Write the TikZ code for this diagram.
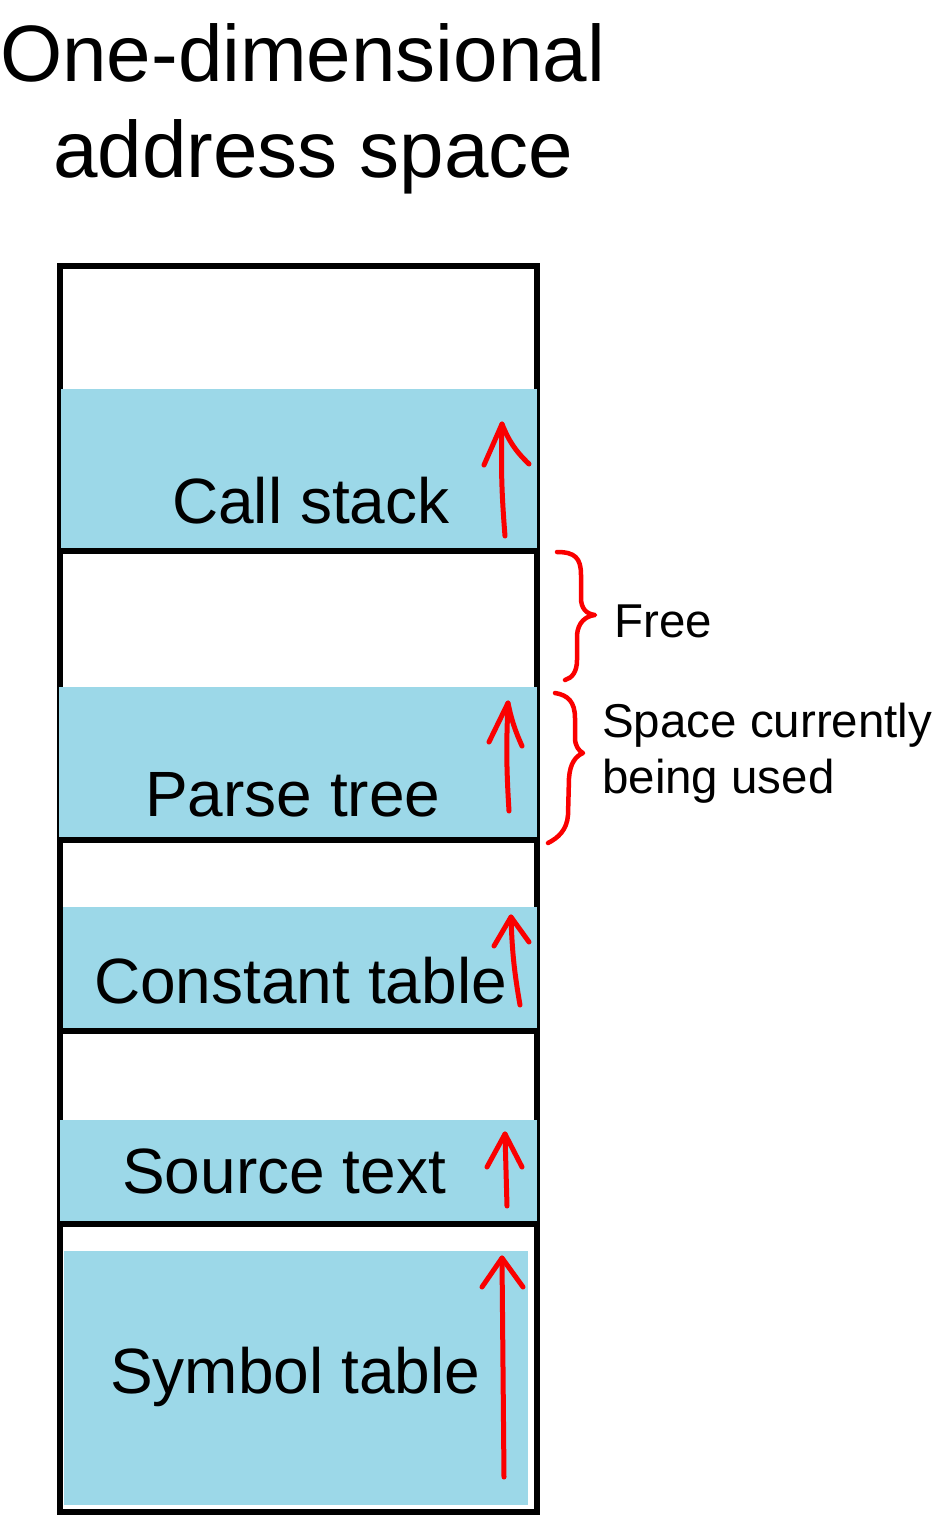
\documentclass[tikz,border=0pt]{standalone}
\usepackage{fontspec}
\setmainfont{Liberation Sans}
\definecolor{segblue}{RGB}{156,216,232}
\definecolor{hred}{RGB}{250,0,0}
\tikzset{
  title/.style={anchor=base west,inner sep=0pt,font=\fontsize{80}{90}\selectfont},
  seglabel/.style={anchor=base west,inner sep=0pt,font=\fontsize{64}{72}\selectfont},
  sidelabel/.style={anchor=base west,inner sep=0pt,font=\fontsize{47.5}{56}\selectfont},
  border/.style={draw=black,line width=5.5pt},
  segfill/.style={fill=segblue,draw=none},
  sep/.style={draw=black,line width=5.5pt},
  handline/.style={draw=hred,line width=5pt,line cap=round,line join=round},
}
\begin{document}
\begin{tikzpicture}[x=1pt,y=-1pt]
\useasboundingbox (0,0) rectangle (937,1516);
\fill[white] (0,0) rectangle (937,1516);

% title
\node[title] (t1) at (0,81) {One-dimensional};
\node[title] (t2) at (53,177) {address space};

% outer frame
\draw[border] (60,266) rectangle (537,1512);

% segments
\fill[segfill] (61,389) rectangle (537,549);
\fill[segfill] (59,687) rectangle (537,837);
\fill[segfill] (63,907) rectangle (537,1029);
\fill[segfill] (60,1120) rectangle (537,1221);
\fill[segfill] (64,1251) rectangle (528,1505);

% separators
\draw[sep] (60,551) -- (537,551);
\draw[sep] (60,840) -- (537,840);
\draw[sep] (60,1031) -- (537,1031);
\draw[sep] (60,1224) -- (537,1224);

% labels
\node[seglabel] (call) at (172,523) {Call stack};
\node[seglabel] (parse) at (145,816) {Parse tree};
\node[seglabel] (const) at (94,1003) {Constant table};
\node[seglabel] (src) at (122,1193) {Source text};
\node[seglabel] (sym) at (110,1393) {Symbol table};

% hand-drawn arrows
\coordinate (a1s) at (505,536); \coordinate (a1t) at (502,424);
\coordinate (a1l) at (484,465); \coordinate (a1r) at (529,464);
\draw[handline] (a1s) to[bend left=3] (a1t);
\draw[handline] (a1l) -- (a1t) to[bend right=12] (a1r);

\coordinate (a2s) at (509,811); \coordinate (a2t) at (508,703);
\coordinate (a2l) at (489,742); \coordinate (a2r) at (522,746);
\draw[handline] (a2s) to[bend left=3] (a2t);
\draw[handline] (a2l) -- (a2t) to[bend right=6] (a2r);

\coordinate (a3s) at (520,1005); \coordinate (a3t) at (511,917);
\coordinate (a3l) at (494,946); \coordinate (a3r) at (529,942);
\draw[handline] (a3s) to[bend left=4] (a3t);
\draw[handline] (a3l) -- (a3t) -- (a3r);

\coordinate (a4s) at (507,1206); \coordinate (a4t) at (505,1134);
\coordinate (a4l) at (487,1167); \coordinate (a4r) at (522,1167);
\draw[handline] (a4s) -- (a4t);
\draw[handline] (a4l) -- (a4t) -- (a4r);

\coordinate (a5s) at (504,1477); \coordinate (a5t) at (502,1258);
\coordinate (a5l) at (482,1287); \coordinate (a5r) at (523,1287);
\draw[handline] (a5s) -- (a5t);
\draw[handline] (a5l) -- (a5t) -- (a5r);

% braces
\coordinate (b1a) at (557,552); \coordinate (b1t) at (595,615); \coordinate (b1b) at (565,680);
\draw[handline,line width=4.5pt] (b1a) .. controls (575,552) and (581,558) .. (581,575)
  -- (581,598) .. controls (581,608) and (586,614) .. (b1t)
  .. controls (586,616) and (578,622) .. (577,635)
  -- (577,660) .. controls (577,672) and (572,678) .. (b1b);
\node[sidelabel] (free) at (614,637) {Free};

\coordinate (b2a) at (555,693); \coordinate (b2t) at (583,753); \coordinate (b2b) at (548,843);
\draw[handline,line width=4.5pt] (b2a) .. controls (568,695) and (575,702) .. (575,718)
  -- (575,738) .. controls (575,746) and (579,751) .. (b2t)
  .. controls (576,756) and (570,763) .. (569,778)
  -- (568,815) .. controls (567,830) and (558,838) .. (b2b);
\node[sidelabel] (used) at (602,737) {Space currently};
\node[sidelabel] (used2) at (602,793) {being used};
\end{tikzpicture}
\end{document}
